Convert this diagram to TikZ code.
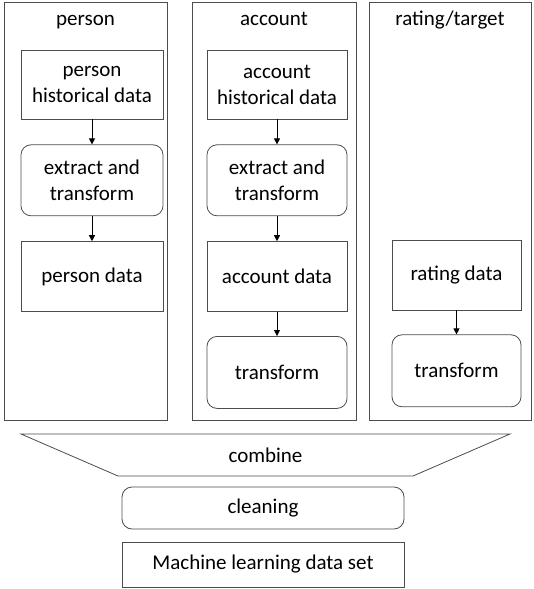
\documentclass[tikz,border=0pt]{standalone}
\usepackage{fontspec}
\setmainfont{Carlito}
\usepackage{tikz}
\usetikzlibrary{positioning,arrows.meta}

\begin{document}
\begin{tikzpicture}[x=1pt, y=-1pt, node distance=25pt,
    lane/.style={rectangle, draw=black!70, line width=0.8pt, minimum height=418pt, inner sep=0pt},
    box/.style={rectangle, draw=black!70, line width=0.8pt, align=center, inner sep=0pt},
    rbox/.style={box, rounded corners=10pt},
    arr/.style={-{Triangle[width=6pt,length=6pt]}, line width=0.8pt},
    font=\fontsize{21}{26}\selectfont]
    \useasboundingbox (0,0) rectangle (533,589);

    % the three lanes
    \node[lane, minimum width=163pt] (lp) at (85.5,211) {};
    \node[lane, minimum width=164pt] (la) at (274,211) {};
    \node[lane, minimum width=162pt] (lr) at (450,211) {};
    \node[anchor=base] (tp) at (85.5,25) {person};
    \node[anchor=base] (ta) at (274,25) {account};
    \node[anchor=base] (tr) at (450,25) {rating/target};

    % person
    \node[box, minimum width=142pt, minimum height=69pt] (ph) at (92,84.5) {person\\historical data};
    \node[rbox, minimum width=142pt, minimum height=71pt, below=of ph] (pe) {extract and\\transform};
    \node[box, minimum width=142pt, minimum height=70pt, below=of pe] (pd) {person data};

    % account
    \node[box, minimum width=140pt, minimum height=69pt] (ah) at (277,84.5) {account\\historical data};
    \node[rbox, minimum width=140pt, minimum height=71pt, below=of ah] (ae) {extract and\\transform};
    \node[box, minimum width=140pt, minimum height=70pt, below=of ae] (ad) {account data};
    \node[rbox, minimum width=140pt, minimum height=72pt, below=24pt of ad] (at) {transform};

    % rating
    \node[box, minimum width=129pt, minimum height=70pt] (rd) at (456.5,275) {rating data};
    \node[rbox, minimum width=129pt, minimum height=72pt, below=24pt of rd] (rt) {transform};

    \draw[arr] (ph) -- (pe);
    \draw[arr] (pe) -- (pd);
    \draw[arr] (ah) -- (ae);
    \draw[arr] (ae) -- (ad);
    \draw[arr] (ad) -- (at);
    \draw[arr] (rd) -- (rt);

    % combine, cleaning, result
    \coordinate (c1) at (21,434);
    \coordinate (c2) at (510,434);
    \coordinate (c3) at (413,476);
    \coordinate (c4) at (118,476);
    \draw[draw=black!70, line width=0.8pt] (c1) -- (c2) -- (c3) -- (c4) -- cycle;
    \node (cb) at (265.5,455) {combine};
    \node[rbox, minimum width=282pt, minimum height=42pt] (cl) at (263,508) {cleaning};
    \node[box, minimum width=282pt, minimum height=45pt] (ml) at (263,564.5) {Machine learning data set};
\end{tikzpicture}
\end{document}
